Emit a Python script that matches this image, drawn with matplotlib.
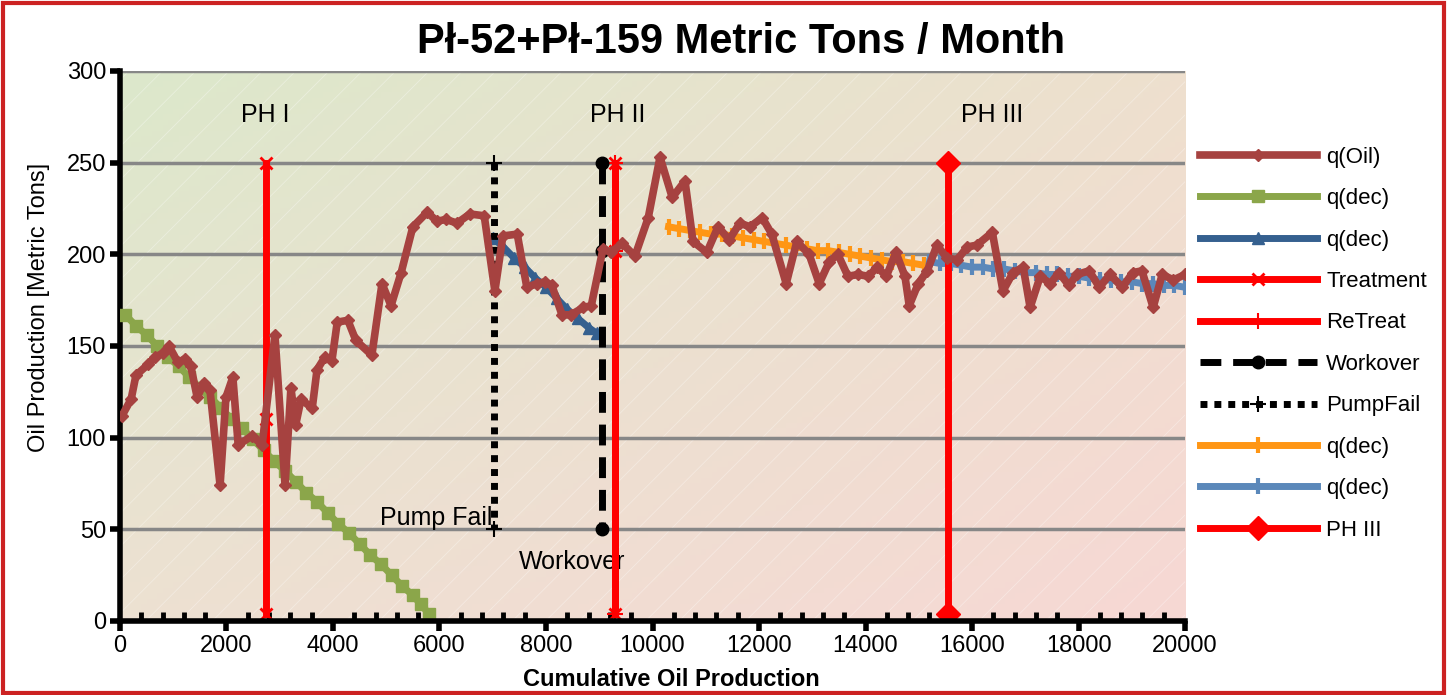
import numpy as np
import matplotlib
matplotlib.use("Agg")
import matplotlib.pyplot as plt
from matplotlib.patches import Rectangle

plt.rcParams['font.family'] = ['Liberation Sans', 'DejaVu Sans']

# q(Oil) - cumulative production vs monthly rate
oil_x = [40, 210, 300, 530, 660, 810, 920, 1090, 1220, 1330, 1450, 1580, 1690, 1880, 1990,
         2120, 2220, 2480, 2670, 2910, 3100, 3210, 3300, 3400, 3610, 3700, 3850, 3980, 4080,
         4280, 4430, 4730, 4920, 5090, 5280, 5500, 5770, 5950, 6120, 6330, 6570, 6840, 7040,
         7190, 7460, 7640, 7830, 7980, 8110, 8300, 8470, 8700, 8850, 9070, 9220, 9430, 9670,
         9920, 10140, 10370, 10610, 10760, 11020, 11230, 11440, 11640, 11830, 12060, 12240,
         12510, 12710, 12940, 13130, 13320, 13480, 13670, 13860, 14050, 14220, 14390, 14570,
         14740, 14820, 14990, 15160, 15340, 15530, 15720, 15910, 16090, 16380, 16580, 16770,
         16960, 17090, 17280, 17470, 17630, 17820, 17970, 18200, 18390, 18590, 18820, 19020,
         19190, 19400, 19570, 19780, 20000]
oil_y = [112, 121, 134, 140, 144, 146, 150, 141, 143, 139, 122, 130, 126, 74, 122,
         133, 96, 101, 96, 156, 74, 127, 107, 121, 116, 137, 144, 142, 163,
         164, 153, 145, 184, 172, 190, 215, 223, 218, 219, 217, 222, 221, 180,
         210, 211, 182, 184, 185, 183, 167, 167, 171, 172, 203, 201, 206, 199,
         220, 253, 231, 240, 207, 201, 215, 208, 217, 215, 220, 211,
         184, 207, 200, 184, 196, 200, 188, 189, 188, 193, 188, 201,
         188, 172, 184, 191, 205, 198, 197, 204, 205, 212, 180, 190,
         193, 171, 188, 184, 190, 183, 189, 191, 182, 189, 182, 190,
         191, 171, 189, 186, 189]

# decline fits
dec1_x = [100, 300, 500, 700, 900, 1100, 1300, 1500, 1700, 1900, 2100, 2300, 2500, 2700, 2900,
          3100, 3300, 3500, 3700, 3900, 4100, 4300, 4500, 4700, 4900, 5100, 5300, 5500, 5650, 5800]
dec1_y = [167, 161, 156, 150, 144, 139, 133, 127, 122, 116, 110, 105, 99, 93, 87,
          82, 76, 70, 65, 59, 53, 48, 42, 36, 31, 25, 19, 14, 9, 4]
dec2_x = [7000, 7200, 7400, 7600, 7800, 8000, 8200, 8400, 8600, 8800, 8950]
dec2_y = [209, 204, 198, 193, 187, 182, 176, 170, 165, 160, 157]
dec3_x = [10300, 10500, 10700, 10900, 11100, 11300, 11500, 11700, 11900, 12100, 12300, 12500,
          12700, 12900, 13100, 13300, 13500, 13700, 13900, 14100, 14300, 14500, 14700, 14900, 15100]
dec3_y = [215, 214, 213, 212, 211, 211, 210, 209, 208, 207, 206, 205,
          204, 203, 202, 202, 201, 200, 199, 198, 197, 196, 196, 195, 194]
dec4_x = [15200, 15400, 15600, 15800, 16000, 16200, 16400, 16600, 16800, 17000, 17200, 17400,
          17600, 17800, 18000, 18200, 18400, 18600, 18800, 19000, 19200, 19400, 19600, 19800, 20000]
dec4_y = [196, 195, 195, 194, 193, 193, 192, 192, 191, 190, 190, 189,
          189, 188, 188, 187, 186, 186, 185, 185, 184, 184, 183, 183, 182]

# event markers
treat_x = [2750, 2750, 2750, np.nan, 9300, 9300, 9300]
treat_y = [250, 110, 4, np.nan, 250, 202, 4]
retreat_x = [9300, 9300, 9300]
retreat_y = [250, 202, 4]
work_x = [9050, 9050, 9050]
work_y = [250, 202, 50]
pump_x = [7020, 7020]
pump_y = [250, 50]
ph3_x = [15550, 15550]
ph3_y = [250, 4]

fig = plt.figure(figsize=(14.47, 6.95), dpi=100)
ax = fig.add_axes([0.0829, 0.1065, 0.7361, 0.7914])

# gradient background
tl = np.array([220, 232, 203]) / 255
tr = np.array([238, 224, 206]) / 255
bl = np.array([237, 225, 210]) / 255
br = np.array([247, 216, 212]) / 255
u = np.linspace(0, 1, 200)[None, :, None]
v = np.linspace(0, 1, 100)[:, None, None]
grad = (1 - v) * ((1 - u) * tl + u * tr) + v * ((1 - u) * bl + u * br)
ax.imshow(grad, extent=(0, 20000, 0, 300), aspect='auto', zorder=0, origin='upper')
plt.rcParams['hatch.linewidth'] = 0.6
ax.add_patch(Rectangle((0, 0), 20000, 300, facecolor='none', edgecolor=(1, 1, 1, 0.35),
                       hatch='/', lw=0, zorder=0.5))

for yv in range(50, 301, 50):
    ax.axhline(yv, color='#878787', lw=2.5, zorder=1)

ax.plot(oil_x, oil_y, color='#A64240', lw=5.5, marker='D', ms=6, label='q(Oil)', zorder=6)
ax.plot(dec1_x, dec1_y, color='#8BA64A', lw=5, marker='s', ms=9, label='q(dec)', zorder=4)
ax.plot(dec2_x, dec2_y, color='#35608F', lw=5, marker='^', ms=9, label='q(dec)', zorder=4)
ax.plot(treat_x, treat_y, color='#FF0000', lw=5, marker='x', ms=9, mew=2,
        label='Treatment', zorder=5)
ax.plot(retreat_x, retreat_y, color='#FF0000', lw=5, marker='+', ms=11, mew=1.5,
        label='ReTreat', zorder=5)
ax.plot(work_x, work_y, color='black', lw=5, ls=(0, (3, 1.7)), marker='o', ms=9,
        label='Workover', zorder=5)
ax.plot(pump_x, pump_y, color='black', lw=5, ls=(0, (1, 1)), marker='+', ms=11, mew=1.5,
        label='PumpFail', zorder=5)
ax.plot(dec3_x, dec3_y, color='#FF9614', lw=5, marker='|', ms=12, mew=3, label='q(dec)', zorder=4)
ax.plot(dec4_x, dec4_y, color='#5B88BA', lw=5, marker='|', ms=12, mew=3, label='q(dec)', zorder=4)
ax.plot(ph3_x, ph3_y, color='#FF0000', lw=5, marker='D', ms=12, label='PH III', zorder=5)

ax.text(2720, 276, 'PH I', fontsize=18, ha='center', va='center')
ax.text(9350, 276, 'PH II', fontsize=18, ha='center', va='center')
ax.text(16380, 276, 'PH III', fontsize=18, ha='center', va='center')
ax.text(6990, 56, 'Pump Fail', fontsize=18, ha='right', va='center')
ax.text(8490, 32, 'Workover', fontsize=18, ha='center', va='center')

ax.set_xlim(0, 20000)
ax.set_ylim(0, 300)
ax.set_xticks(range(0, 20001, 2000))
ax.set_xticks(range(400, 20000, 400), minor=True)
ax.set_yticks(range(0, 301, 50))
ax.tick_params(axis='both', labelsize=17, length=7, width=4, direction='out', pad=3)
ax.tick_params(axis='x', which='minor', direction='in', length=6.5, width=3.5)
for side in ['top', 'right']:
    ax.spines[side].set_visible(False)
for side in ['left', 'bottom']:
    ax.spines[side].set_linewidth(4)
ax.spines['bottom'].set_zorder(7)

ax.set_xlabel('Cumulative Oil Production', fontsize=17, fontweight='bold', labelpad=7)
ax.xaxis.set_label_coords(0.518, -0.085)
ax.set_ylabel('Oil Production [Metric Tons]', fontsize=17)
ax.yaxis.set_label_coords(-0.066, 0.57)
fig.text(0.512, 0.94, 'Pł-52+Pł-159 Metric Tons / Month', fontsize=30, fontweight='bold',
         ha='center', va='center')

ax.legend(loc='upper left', bbox_to_anchor=(0.829, 0.789), bbox_transform=fig.transFigure,
          frameon=False, fontsize=16, handlelength=5.3, labelspacing=0.92, handletextpad=0.4,
          borderaxespad=0, borderpad=0)

fig.add_artist(Rectangle((0.002, 0.003), 0.996, 0.993, transform=fig.transFigure,
                         fill=False, edgecolor='#CC2222', lw=3))

fig.savefig('out.png', dpi=100)
